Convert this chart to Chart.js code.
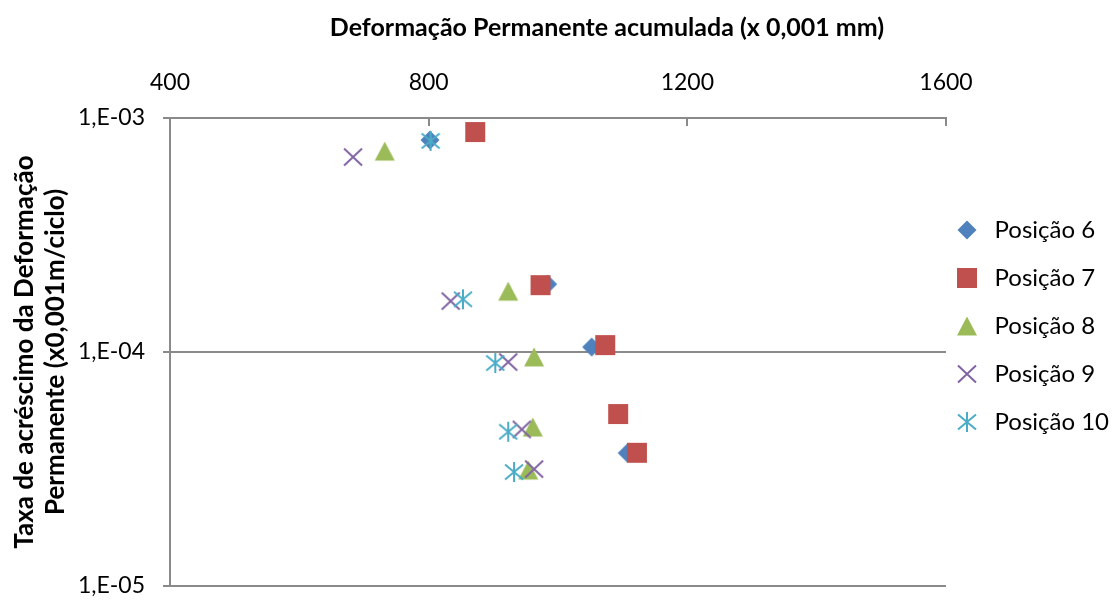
<!DOCTYPE html>
<html>
<head>
<meta charset="utf-8">
<script src="https://cdn.jsdelivr.net/npm/chart.js@4"></script>
<style>
  body { margin: 0; background: #fff; }
</style>
</head>
<body>
<canvas id="chart" width="1113" height="600"></canvas>
<script>
// values
const seriesNames = ['Posição 6', 'Posição 7', 'Posição 8', 'Posição 9', 'Posição 10'];

const pos6X = [802, 984, 1052, 1107];
const pos6Y = [8.05e-4, 1.95e-4, 1.05e-4, 3.7e-5];

const pos7X = [872, 973, 1073, 1093, 1122];
const pos7Y = [8.71e-4, 1.93e-4, 1.07e-4, 5.43e-5, 3.71e-5];

const pos8X = [732, 923, 963, 961, 954];
const pos8Y = [7.22e-4, 1.82e-4, 9.53e-5, 4.78e-5, 3.13e-5];

const pos9X = [683, 834, 923, 944, 963];
const pos9Y = [6.81e-4, 1.65e-4, 9.06e-5, 4.67e-5, 3.16e-5];

const pos10X = [803, 853, 903, 923, 932];
const pos10Y = [7.98e-4, 1.68e-4, 8.97e-5, 4.56e-5, 3.07e-5];

const xTicks = [400, 800, 1200, 1600];
const yTicks = [1e-5, 1e-4, 1e-3];

const FONT = 'Lato';
const GRID = '#8a8a8a';

// excel-like markers drawn on small canvases
function makeMarker(kind, color) {
    const c = document.createElement('canvas');
    c.width = 22;
    c.height = 22;
    const g = c.getContext('2d');
    g.fillStyle = color;
    g.strokeStyle = color;
    g.lineWidth = 2;
    g.beginPath();
    if (kind === 'diamond') {
        g.moveTo(11, 1.5); g.lineTo(20.5, 11); g.lineTo(11, 20.5); g.lineTo(1.5, 11);
        g.closePath(); g.fill();
    } else if (kind === 'square') {
        g.fillRect(1, 1, 20, 20);
    } else if (kind === 'triangle') {
        g.moveTo(11, 1.5); g.lineTo(21, 20.5); g.lineTo(1, 20.5);
        g.closePath(); g.fill();
    } else if (kind === 'x') {
        g.moveTo(2, 2.5); g.lineTo(20, 19.5);
        g.moveTo(20, 2.5); g.lineTo(2, 19.5);
        g.stroke();
    } else {
        g.moveTo(11, 1); g.lineTo(11, 21);
        g.moveTo(2, 3.5); g.lineTo(20, 18.5);
        g.moveTo(20, 3.5); g.lineTo(2, 18.5);
        g.stroke();
    }
    return c;
}

const markers = [
    makeMarker('diamond', '#4F81BD'),
    makeMarker('square', '#C0504D'),
    makeMarker('triangle', '#9BBB59'),
    makeMarker('x', '#8064A2'),
    makeMarker('star', '#4BACC6')
];

const xs = [pos6X, pos7X, pos8X, pos9X, pos10X];
const ys = [pos6Y, pos7Y, pos8Y, pos9Y, pos10Y];

const datasets = seriesNames.map((name, i) => ({
    label: name,
    data: xs[i].map((x, j) => ({ x: x, y: ys[i][j] })),
    pointStyle: markers[i],
    pointRadius: 10,
    pointHoverRadius: 10,
    showLine: false,
    order: seriesNames.length - i   // later series on top, like excel
}));

function sciLabel(v) {
    const e = Math.round(Math.log10(v));
    return '1,E' + (e < 0 ? '-' : '+') + String(Math.abs(e)).padStart(2, '0');
}

// nudge title and legend to where the reference has them
const placeBoxes = {
    id: 'placeBoxes',
    afterLayout(chart) {
        const t = chart.titleBlock;
        t.left = 101;
        t.right = 1113;
        const lg = chart.legend;
        lg.left = 927.5;
        lg.right = 1113;
        lg.width = lg.right - lg.left;
        lg.top = 118;
        lg.bottom = 534;
    }
};

const ctx = document.getElementById('chart').getContext('2d');
const chart = new Chart(ctx, {
    type: 'scatter',
    data: { datasets: datasets },
    plugins: [placeBoxes],
    options: {
        responsive: false,
        animation: false,
        layout: { padding: { left: 0, right: 0, top: 0, bottom: 14 } },
        scales: {
            x: {
                type: 'linear',
                position: 'top',
                min: 400,
                max: 1600,
                afterBuildTicks: scale => { scale.ticks = xTicks.map(v => ({ value: v })); },
                afterFit: scale => { scale.height = 78; },
                ticks: {
                    color: '#000',
                    font: { family: FONT, size: 23, lineHeight: '26px' },
                    padding: 30,
                    callback: v => String(v)
                },
                grid: {
                    drawOnChartArea: false,
                    drawTicks: true,
                    tickLength: -8,
                    color: GRID,
                    lineWidth: 2
                },
                border: { display: true, color: GRID, width: 2 },
                title: { display: false }
            },
            y: {
                type: 'logarithmic',
                position: 'left',
                min: 1e-5,
                max: 1e-3,
                afterBuildTicks: scale => { scale.ticks = yTicks.map(v => ({ value: v })); },
                afterFit: scale => {
                    scale.width = 170;
                    scale.paddingTop = 0;
                    scale.paddingBottom = 0;
                },
                ticks: {
                    color: '#000',
                    font: { family: FONT, size: 23 },
                    padding: 18,
                    callback: v => sciLabel(v)
                },
                grid: {
                    color: GRID,
                    lineWidth: 2,
                    tickLength: 7
                },
                border: { display: true, color: GRID, width: 2 },
                title: {
                    display: true,
                    text: ['Taxa de acréscimo da Deformação', 'Permanente (x0,001m/ciclo)'],
                    color: '#000',
                    font: { family: FONT, size: 26, weight: 'bold', lineHeight: '31px' },
                    padding: { top: 9, bottom: 0 }
                }
            }
        },
        plugins: {
            title: {
                display: true,
                text: 'Deformação Permanente acumulada (x 0,001 mm)',
                color: '#000',
                font: { family: FONT, size: 25, weight: 'bold', lineHeight: '24px' },
                padding: { top: 16, bottom: 0 }
            },
            legend: {
                position: 'right',
                maxWidth: 167,
                labels: {
                    usePointStyle: true,
                    pointStyleWidth: 31,
                    padding: 24,
                    color: '#000',
                    font: { family: FONT, size: 24 },
                    sort: (a, b) => a.datasetIndex - b.datasetIndex
                }
            },
            tooltip: { enabled: false }
        }
    }
});
</script>
</body>
</html>
